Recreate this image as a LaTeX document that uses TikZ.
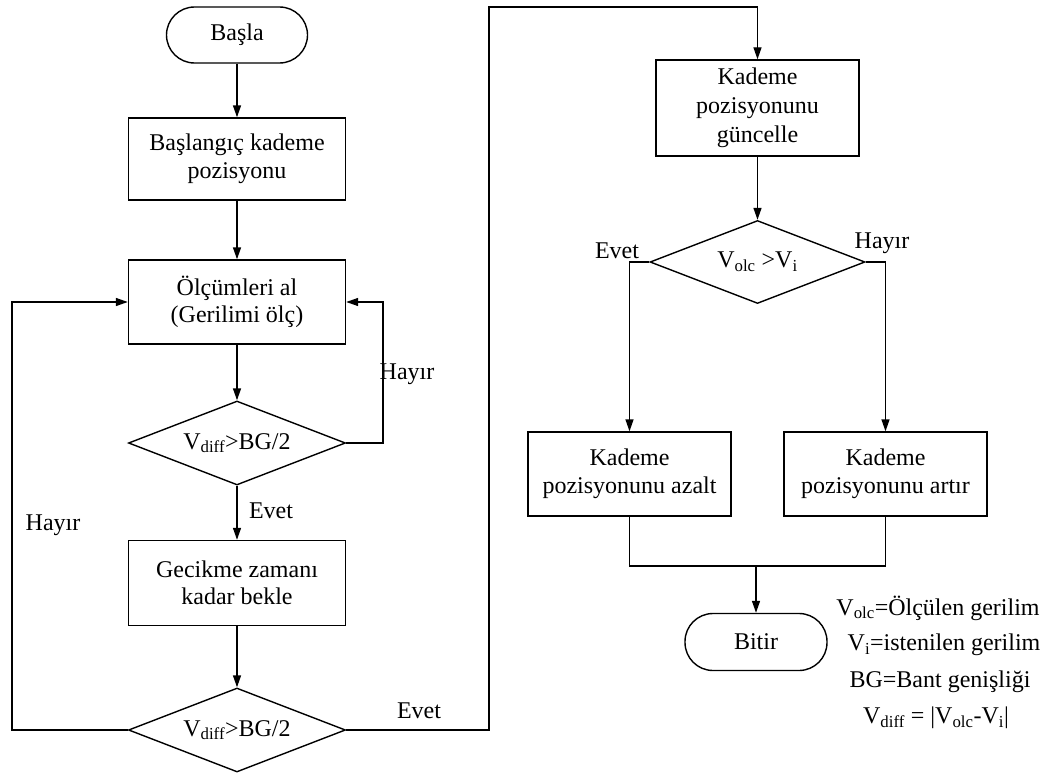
\documentclass[tikz,border=0pt]{standalone}
\usepackage{fontspec}
\setmainfont{Liberation Serif}
\usetikzlibrary{shapes.geometric,arrows.meta}
\begin{document}
\begin{tikzpicture}[x=1pt,y=-1pt,
  every node/.style={font=\fontsize{24}{27.5}\selectfont},
  box/.style={draw,line width=1.4pt,rectangle,inner sep=0pt,align=center},
  term/.style={draw,line width=1.4pt,rectangle,rounded corners=28pt,inner sep=0pt,align=center},
  dec/.style={draw,line width=1.4pt,diamond,shape aspect=2.58,inner sep=0pt,minimum width=217pt,minimum height=84pt},
  conn/.style={line width=1.4pt,-{Triangle[length=12pt,width=8pt]}},
  plain/.style={line width=1.4pt},
  lbl/.style={inner sep=0pt}]
\useasboundingbox (0,0) rectangle (1050,776);
% left column
\node[term,minimum width=141pt,minimum height=56pt] (start) at (237,35) {Başla};
\node[box,minimum width=217pt,minimum height=82pt] (b1) at (237,159) {Başlangıç kademe\\pozisyonu};
\node[box,minimum width=217pt,minimum height=84pt] (b2) at (237,302) {Ölçümleri al\\(Gerilimi ölç)};
\node[dec] (d1) at (237,443) {V\textsubscript{diff}>BG/2};
\node[box,minimum width=217pt,minimum height=85pt] (b3) at (237,583) {Gecikme zamanı\\kadar bekle};
\node[dec] (d2) at (237,730) {V\textsubscript{diff}>BG/2};
% right column
\node[box,minimum width=203pt,minimum height=96pt,font=\fontsize{24}{29}\selectfont] (b4) at (757.5,108) {Kademe\\pozisyonunu\\güncelle};
\node[dec,minimum width=215pt,minimum height=83pt] (d3) at (757.5,262) {V\textsubscript{olc} >V\textsubscript{i}};
\node[box,minimum width=203pt,minimum height=84pt] (b5) at (629.5,474) {Kademe\\pozisyonunu azalt};
\node[box,minimum width=203pt,minimum height=84pt] (b6) at (885.5,474) {Kademe\\pozisyonunu artır};
\node[term,minimum width=142pt,minimum height=57pt] (end) at (756,642) {Bitir};
% coordinates
\coordinate (c1) at (383,443);
\coordinate (c2) at (383,302);
\coordinate (c3) at (12,730);
\coordinate (c4) at (12,302);
\coordinate (c5) at (489,730);
\coordinate (c6) at (489,7);
\coordinate (c7) at (757.5,7);
\coordinate (c8) at (629.5,262);
\coordinate (c9) at (885.5,262);
\coordinate (m1) at (629.5,566);
\coordinate (m2) at (885.5,566);
\coordinate (m3) at (756,566);
% connectors
\draw[conn] (start) -- (b1);
\draw[conn] (b1) -- (b2);
\draw[conn] (b2) -- (d1);
\draw[conn] (d1) -- (b3);
\draw[conn] (b3) -- (d2);
\draw[conn] (d1.east) -- (c1) -- (c2) -- (b2.east);
\draw[conn] (d2.west) -- (c3) -- (c4) -- (b2.west);
\draw[conn] (d2.east) -- (c5) -- (c6) -- (c7) -- (b4.north);
\draw[conn] (b4) -- (d3);
\draw[conn] (d3.west) -- (c8) -- (b5.north);
\draw[conn] (d3.east) -- (c9) -- (b6.north);
\draw[plain] (b5.south) -- (m1) -- (m2) -- (b6.south);
\draw[conn] (m3) -- (end.north);
% labels
\node[lbl] (l1) at (407,374) {Hayır};
\node[lbl] (l2) at (271,511) {Evet};
\node[lbl] (l3) at (53,525) {Hayır};
\node[lbl] (l4) at (419,711) {Evet};
\node[lbl] (l5) at (617,251) {Evet};
\node[lbl] (l6) at (882,243) {Hayır};
% legend
\node[lbl] (g1) at (938,608) {V\textsubscript{olc}=Ölçülen gerilim};
\node[lbl] (g2) at (944,645) {V\textsubscript{i}=istenilen gerilim};
\node[lbl] (g3) at (940,682) {BG=Bant genişliği};
\node[lbl] (g4) at (936,718) {V\textsubscript{diff} = |V\textsubscript{olc}-V\textsubscript{i}|};
\end{tikzpicture}
\end{document}
